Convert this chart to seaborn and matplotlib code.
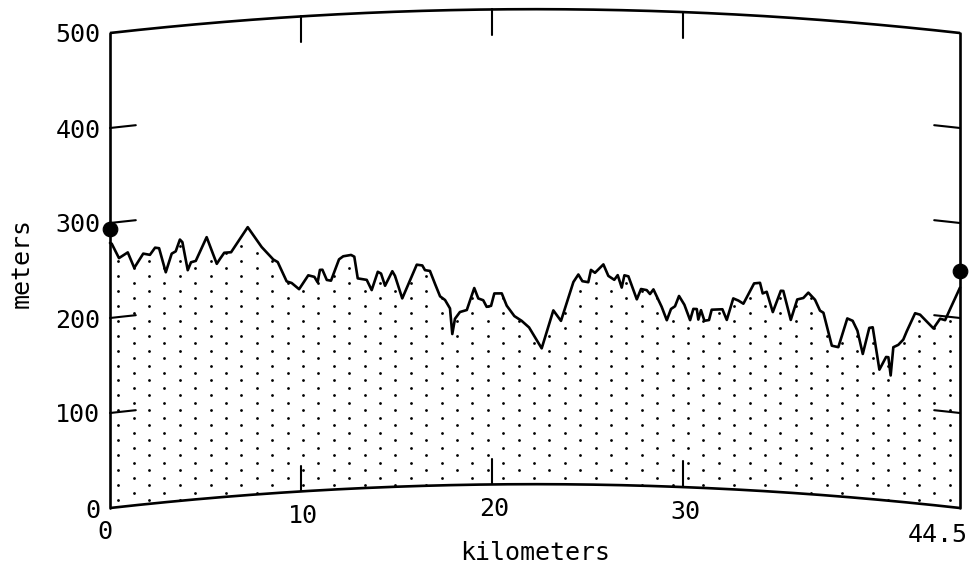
import numpy as np
import matplotlib
matplotlib.use("Agg")
import matplotlib.pyplot as plt
import seaborn as sns

# ---------------- data ----------------
distance_km = [0.00, 0.09, 0.47, 0.93, 1.27, 1.74, 2.09, 2.36, 2.57, 2.92, 3.23, 3.44,
               3.66, 3.79, 4.07, 4.24, 4.49, 5.06, 5.59, 5.76, 5.98, 6.34, 7.21, 7.94,
               8.55, 8.78, 9.25, 9.51, 9.90, 10.38, 10.70, 10.87, 10.99, 11.12, 11.35,
               11.57, 11.99, 12.21, 12.62, 12.79, 12.97, 13.44, 13.70, 14.02, 14.19,
               14.40, 14.78, 14.92, 15.30, 16.06, 16.35, 16.49, 16.75, 17.02, 17.28,
               17.54, 17.80, 17.92, 18.06, 18.32, 18.68, 19.07, 19.28, 19.54, 19.72,
               19.95, 20.12, 20.51, 20.77, 21.17, 21.55, 21.94, 22.60, 23.21, 23.61,
               24.26, 24.52, 24.73, 25.04, 25.18, 25.39, 25.83, 26.09, 26.40, 26.58,
               26.79, 26.93, 27.14, 27.58, 27.80, 28.10, 28.27, 28.45, 28.88, 29.15,
               29.37, 29.58, 29.79, 30.07, 30.37, 30.54, 30.72, 30.80, 30.94, 31.12,
               31.36, 31.50, 32.06, 32.29, 32.63, 32.90, 33.16, 33.72, 34.03, 34.17,
               34.38, 34.70, 35.12, 35.25, 35.64, 35.98, 36.30, 36.56, 36.91, 37.17,
               37.35, 37.79, 38.13, 38.60, 38.88, 39.13, 39.41, 39.75, 39.93, 40.28,
               40.63, 40.75, 40.87, 41.01, 41.27, 41.53, 41.71, 42.15, 42.41, 43.11,
               43.46, 43.72, 44.02, 44.50]
elevation_m = [279, 278, 262, 267, 250, 264, 262, 269, 268, 242, 261, 263,
               275, 272, 242, 250, 251, 275, 246, 251, 257, 257, 282, 260,
               246, 243, 222, 220, 213, 227, 225, 219, 232, 232, 221,
               220, 242, 245, 246, 244, 221, 219, 208, 227, 225,
               212, 227, 222, 198, 233, 232, 227, 226, 212, 199,
               195, 186, 159, 175, 182, 184, 207, 196, 194, 187,
               188, 201, 201, 188, 177, 172, 165, 143, 183, 172,
               213, 221, 214, 213, 226, 223, 232, 220, 216, 221,
               208, 221, 220, 196, 207, 206, 202, 207, 189, 175,
               187, 190, 201, 192, 176, 188, 188, 177, 187, 176,
               177, 188, 189, 178, 201, 199, 196, 218, 219, 208,
               210, 189, 212, 212, 182, 204, 206, 212, 205, 194,
               192, 158, 157, 188, 186, 176, 152, 180, 181, 137,
               151, 151, 132, 162, 165, 171, 180, 200, 199, 186,
               197, 196, 210, 232]
antenna_km = [0.0, 44.5]
antenna_m = [294, 250]
path_length_km = 44.5
x_ticks = [10, 20, 30]
x_tick_labels = ["10", "20", "30"]
y_ticks = [0, 100, 200, 300, 400, 500]
y_tick_labels = ["0", "100", "200", "300", "400", "500"]
k_factor = 1.55          # effective earth-radius factor of the drawn bulge
earth_radius_km = 6371.0

# ---------------- helpers ----------------
def bulge(d):
    d = np.asarray(d, dtype=float)
    return d * (path_length_km - d) / (2 * k_factor * earth_radius_km) * 1000.0

sns.set_style("white")
plt.rcParams["font.family"] = ["DejaVu Sans Mono", "DejaVu Sans"]
plt.rcParams["text.color"] = "black"
plt.rcParams["ytick.color"] = "black"
plt.rcParams["ytick.labelcolor"] = "black"

W, H, DPI = 969, 567, 100
fig = plt.figure(figsize=(W / DPI, H / DPI), dpi=DPI)
# d=0 -> x=110px, d=44.5 -> x=960px ; 0 m -> y=508px, 500 m -> y=33px
ax = fig.add_axes([110 / W, (H - 508) / H, 850 / W, 475 / H])
ax.set_xlim(0, path_length_km)
ax.set_ylim(0, 500)
for s in ax.spines.values():
    s.set_visible(False)

d = np.array(distance_km)
h = np.array(elevation_m)
prof = h + bulge(d)

LW = 1.9
ink = "black"

# stippled fill under the profile, clipped to the terrain polygon
poly = ax.fill_between(d, bulge(d), prof, facecolor="none", linewidth=0)
col_step_km = 15.4 / 19.1
row_step_m = 7.5 / 0.952
ii, jj = np.meshgrid(np.arange(0, 60), np.arange(-30, 45))
mask = (ii + jj) % 2 == 0
gx = 0.43 + ii[mask] * col_step_km
gy = 213 + jj[mask] * row_step_m
keep = (gx > 0.1) & (gx < path_length_km - 0.1) & (gy > 0)
sc = ax.scatter(gx[keep], gy[keep], s=4.0, color=ink, linewidths=0, zorder=2)
sc.set_clip_path(poly.get_paths()[0], ax.transData)

# terrain profile
sns.lineplot(x=d, y=prof, ax=ax, color=ink, linewidth=LW, estimator=None,
             sort=False, zorder=4)
for ln in ax.lines:
    ln.set_clip_on(False)

# curved frame
dd = np.linspace(0, path_length_km, 300)
ax.plot(dd, bulge(dd), color=ink, lw=LW, clip_on=False, solid_capstyle="butt")
ax.plot(dd, 500 + bulge(dd), color=ink, lw=LW, clip_on=False, solid_capstyle="butt")
ax.plot([0, 0], [0, 500], color=ink, lw=LW, clip_on=False)
ax.plot([path_length_km] * 2, [0, 500], color=ink, lw=LW, clip_on=False)

# x ticks (up from bottom curve, down from top curve)
tick_m = 27
for xt in x_ticks:
    b = float(bulge(xt))
    ax.plot([xt, xt], [b, b + tick_m], color=ink, lw=1.5, clip_on=False)
    ax.plot([xt, xt], [500 + b, 500 + b - tick_m], color=ink, lw=1.5, clip_on=False)

# y ticks following the curvature on both sides
tick_km = 1.35
for yt in y_ticks[1:-1]:
    dl = np.linspace(0, tick_km, 10)
    ax.plot(dl, yt + bulge(dl), color=ink, lw=1.5, clip_on=False)
    dr = np.linspace(path_length_km - tick_km, path_length_km, 10)
    ax.plot(dr, yt + bulge(dr), color=ink, lw=1.5, clip_on=False)

# antenna markers
sns.scatterplot(x=antenna_km, y=antenna_m, ax=ax, s=110, color=ink,
                edgecolor=ink, zorder=6, clip_on=False, legend=False)

# y tick labels through the axis
ax.set_yticks(y_ticks)
ax.set_yticklabels(y_tick_labels)
ax.set_xticks([])
ax.tick_params(axis="y", length=0, pad=7, labelsize=18, labelcolor="black")

# x tick labels, placed below the curved base line
px = 72 / DPI
lab_kw = dict(textcoords="offset points", va="center", fontsize=18,
              annotation_clip=False, color="black")
ax.annotate("0", xy=(0, 0), xytext=(-5 * px, -24 * px), ha="center", **lab_kw)
for xt, lab in zip(x_ticks, x_tick_labels):
    ax.annotate(lab, xy=(xt, float(bulge(xt))), xytext=(2 * px, -25 * px),
                ha="center", **lab_kw)
ax.annotate("44.5", xy=(path_length_km, 0), xytext=(8 * px, -27 * px),
            ha="right", **lab_kw)

# axis titles
fig.text(535 / W, 1 - 553 / H, "kilometers", ha="center", va="center",
         fontsize=18, color="black")
fig.text(22 / W, 1 - 263 / H, "meters", ha="center", va="center", rotation=90,
         fontsize=18, color="black")

fig.savefig("out.png", dpi=DPI, facecolor="white")
